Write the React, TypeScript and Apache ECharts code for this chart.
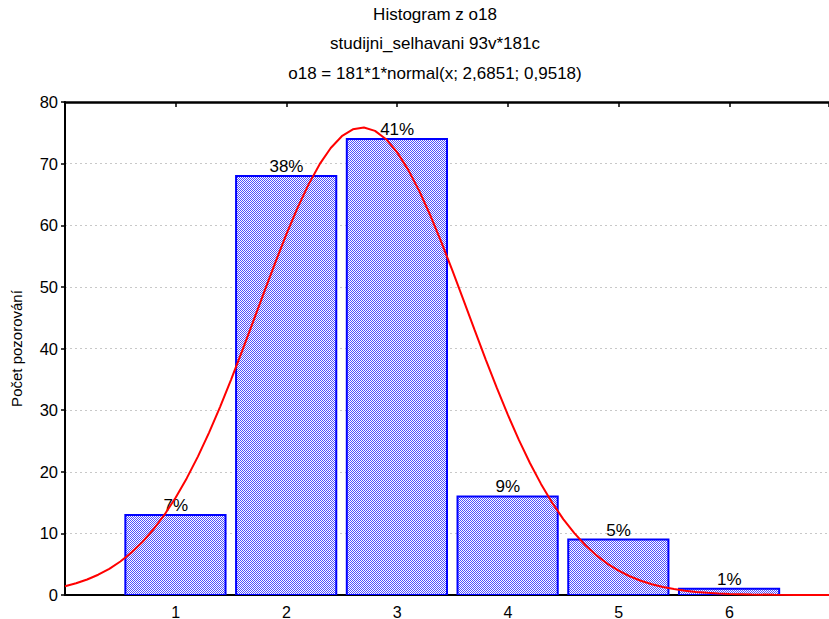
import React, { useEffect, useRef } from "react";
import * as echarts from "echarts";

const categories = [1, 2, 3, 4, 5, 6];
const counts = [13, 68, 74, 16, 9, 1];
const percentLabels = ["7%", "38%", "41%", "9%", "5%", "1%"];
const yTicks = [0, 10, 20, 30, 40, 50, 60, 70, 80];
const curveX = [
  0, 0.1, 0.2, 0.3, 0.4, 0.5, 0.6, 0.7, 0.8, 0.9,
  1, 1.1, 1.2, 1.3, 1.4, 1.5, 1.6, 1.7, 1.8, 1.9,
  2, 2.1, 2.2, 2.3, 2.4, 2.5, 2.6, 2.7, 2.8, 2.9,
  3, 3.1, 3.2, 3.3, 3.4, 3.5, 3.6, 3.7, 3.8, 3.9,
  4, 4.1, 4.2, 4.3, 4.4, 4.5, 4.6, 4.7, 4.8, 4.9,
  5, 5.1, 5.2, 5.3, 5.4, 5.5, 5.6, 5.7, 5.8, 5.9,
  6, 6.2, 6.4, 6.6, 6.9,
];
const curveY = [
  1.42, 1.9, 2.51, 3.29, 4.25, 5.44, 6.89, 8.62, 10.67, 13.07,
  15.83, 18.96, 22.46, 26.31, 30.49, 34.95, 39.61, 44.41, 49.24, 53.99,
  58.56, 62.81, 66.63, 69.91, 72.54, 74.45, 75.57, 75.86, 75.32, 73.96,
  71.83, 68.99, 65.54, 61.58, 57.22, 52.59, 47.8, 42.97, 38.21, 33.6,
  29.22, 25.13, 21.38, 17.99, 14.97, 12.32, 10.03, 8.07, 6.43, 5.06,
  3.94, 3.04, 2.31, 1.74, 1.3, 0.96, 0.7, 0.5, 0.36, 0.25,
  0.18, 0.08, 0.04, 0.016, 0.004,
];
const titleLines = ["Histogram z o18", "studijni_selhavani 93v*181c", "o18 = 181*1*normal(x; 2,6851; 0,9518)"];
const yAxisName = "Počet pozorování";

function makePattern(): any {
  const c = document.createElement("canvas");
  c.width = 2;
  c.height = 2;
  const ctx = c.getContext("2d");
  if (!ctx) return "#a8a8f0";
  ctx.fillStyle = "#ffffff";
  ctx.fillRect(0, 0, 2, 2);
  ctx.fillStyle = "#5050ff";
  ctx.fillRect(0, 0, 1, 1);
  ctx.fillRect(1, 1, 1, 1);
  return { image: c, repeat: "repeat" };
}

export default function App() {
  const ref = useRef<HTMLDivElement>(null);
  useEffect(() => {
    if (!ref.current) return;
    const chart = echarts.init(ref.current, null, { renderer: "svg" });
    const font = "'Liberation Sans', Arial, sans-serif";
    const pattern = makePattern();
    const barData = categories.map((c, i) => [c, counts[i], i]);
    chart.setOption({
      animation: false,
      backgroundColor: "#ffffff",
      textStyle: { fontFamily: font },
      graphic: titleLines.map((t, i) => ({
        type: "text",
        x: 435,
        y: 14 + i * 29.5,
        style: {
          text: t,
          textAlign: "center",
          textVerticalAlign: "middle",
          fontSize: 17,
          fontFamily: font,
          fill: "#000",
        },
      })),
      grid: { left: 65, right: 0, top: 102, bottom: 24, containLabel: false, outerBoundsMode: "none" },
      xAxis: [
        {
          type: "value",
          min: 0,
          max: 6.9,
          interval: 1,
          position: "bottom",
          axisLine: { show: true, lineStyle: { color: "#000", width: 2 } },
          axisTick: { show: true, inside: true, length: 5, lineStyle: { color: "#000", width: 1.5 } },
          axisLabel: {
            fontSize: 16,
            color: "#000",
            fontFamily: font,
            margin: 9,
            formatter: (v: number) => (categories.indexOf(v) >= 0 ? String(v) : ""),
            showMaxLabel: false,
          },
          splitLine: { show: false },
        },
        {
          type: "value",
          min: 0,
          max: 6.9,
          interval: 1,
          position: "top",
          axisLine: { show: true, onZero: false, lineStyle: { color: "#000", width: 2.5 } },
          axisTick: { show: true, inside: true, length: 5, lineStyle: { color: "#000", width: 1.5 } },
          axisLabel: { show: false },
          splitLine: { show: false },
        },
      ],
      yAxis: {
        type: "value",
        min: 0,
        max: 80,
        interval: 10,
        name: yAxisName,
        nameLocation: "middle",
        nameGap: 41,
        nameTextStyle: { fontSize: 15, color: "#000", fontFamily: font },
        axisLine: { show: true, lineStyle: { color: "#000", width: 2 } },
        axisTick: { show: true, inside: false, length: 4, lineStyle: { color: "#000", width: 1.5 } },
        axisLabel: {
          fontSize: 16.5,
          color: "#000",
          fontFamily: font,
          margin: 7,
          formatter: (v: number) => (yTicks.indexOf(v) >= 0 ? String(v) : ""),
        },
        splitLine: { show: true, lineStyle: { color: "#c8c8c8", type: [2, 3], width: 1 } },
      },
      series: [
        {
          type: "custom",
          xAxisIndex: 0,
          clip: true,
          data: barData,
          z: 2,
          renderItem: (params: any, api: any) => {
            const x = api.value(0);
            const y = api.value(1);
            const idx = api.value(2);
            const p0 = api.coord([x - 0.455, y]);
            const p1 = api.coord([x + 0.45, 0]);
            const top = api.coord([x, y]);
            return {
              type: "group",
              children: [
                {
                  type: "rect",
                  shape: { x: p0[0], y: p0[1], width: p1[0] - p0[0], height: p1[1] - p0[1] },
                  style: { fill: pattern, stroke: "#0000ff", lineWidth: 2 },
                },
                {
                  type: "text",
                  z2: 10,
                  style: {
                    text: percentLabels[idx],
                    x: top[0],
                    y: top[1] - 1,
                    textAlign: "center",
                    textVerticalAlign: "bottom",
                    fontSize: 17,
                    fontFamily: font,
                    fill: "#000",
                  },
                },
              ],
            };
          },
        },
        {
          type: "line",
          xAxisIndex: 0,
          data: curveX.map((x, i) => [x, curveY[i]]),
          smooth: false,
          symbol: "none",
          z: 3,
          lineStyle: { color: "#ff0000", width: 2 },
        },
      ],
    });
    return () => chart.dispose();
  }, []);
  return (
    <div
      ref={ref}
      style={{ position: "fixed", left: 0, top: 0, width: 829, height: 619, background: "#fff" }}
    />
  );
}
